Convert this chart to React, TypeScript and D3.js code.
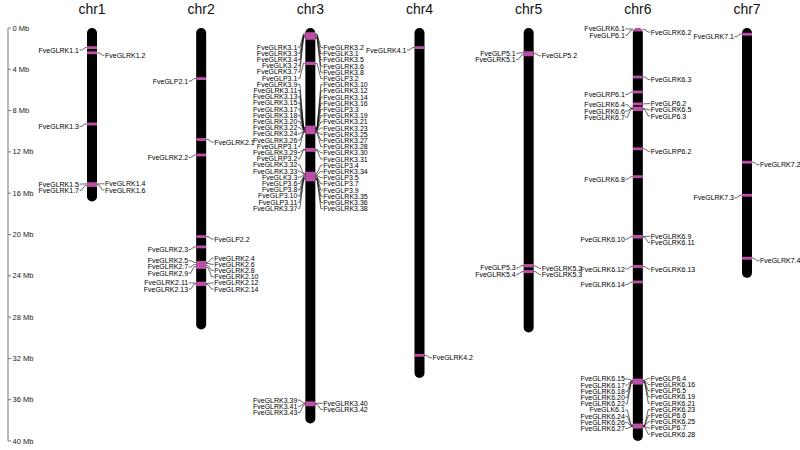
import React from 'react';
import * as d3 from 'd3';

const W = 800;
const H = 450;

const chromNames = ['chr1', 'chr2', 'chr3', 'chr4', 'chr5', 'chr6', 'chr7'];
const chromLengths = [16.8, 29.2, 38.3, 33.9, 29.5, 40.0, 24.2];
const axisTicks = [0, 4, 8, 12, 16, 20, 24, 28, 32, 36, 40];

type Gene = [string, number, 'L' | 'R'];

const chr1Genes: Gene[] = [
  ['FveGLRK1.1', 1.9, 'L'],
  ['FveGLRK1.2', 2.4, 'R'],
  ['FveGLRK1.3', 9.3, 'L'],
  ['FveGLRK1.4', 15.1, 'R'],
  ['FveGLRK1.5', 15.1, 'L'],
  ['FveGLRK1.6', 15.2, 'R'],
  ['FveGLRK1.7', 15.25, 'L'],
];

const chr2Genes: Gene[] = [
  ['FveGLP2.1', 4.9, 'L'],
  ['FveGLRK2.1', 10.8, 'R'],
  ['FveGLRK2.2', 12.3, 'L'],
  ['FveGLP2.2', 20.2, 'R'],
  ['FveGLRK2.3', 21.2, 'L'],
  ['FveGLRK2.4', 22.7, 'R'],
  ['FveGLRK2.5', 22.7, 'L'],
  ['FveGLRK2.6', 22.8, 'R'],
  ['FveGLRK2.7', 22.9, 'L'],
  ['FveGLRK2.8', 23.0, 'R'],
  ['FveGLRK2.9', 23.1, 'L'],
  ['FveGLRK2.10', 23.2, 'R'],
  ['FveGLRK2.11', 24.7, 'L'],
  ['FveGLRK2.12', 24.75, 'R'],
  ['FveGLRK2.13', 24.8, 'L'],
  ['FveGLRK2.14', 24.85, 'R'],
];

const chr3Genes: Gene[] = [
  ['FveGLRK3.1', 0.55, 'L'],
  ['FveGLRK3.2', 0.6, 'R'],
  ['FveGLK3.1', 0.65, 'R'],
  ['FveGLRK3.3', 0.7, 'L'],
  ['FveGLRK3.4', 0.75, 'L'],
  ['FveGLRK3.5', 0.8, 'R'],
  ['FveGLK3.2', 0.85, 'L'],
  ['FveGLRK3.6', 0.9, 'R'],
  ['FveGLRK3.7', 0.95, 'L'],
  ['FveGLRK3.8', 1.0, 'R'],
  ['FveGLP3.1', 3.4, 'L'],
  ['FveGLP3.2', 3.45, 'R'],
  ['FveGLRK3.9', 9.6, 'L'],
  ['FveGLRK3.10', 9.62, 'R'],
  ['FveGLRK3.11', 9.65, 'L'],
  ['FveGLRK3.12', 9.68, 'R'],
  ['FveGLRK3.13', 9.7, 'L'],
  ['FveGLRK3.14', 9.73, 'R'],
  ['FveGLRK3.15', 9.75, 'L'],
  ['FveGLRK3.16', 9.78, 'R'],
  ['FveGLP3.3', 9.8, 'R'],
  ['FveGLRK3.17', 9.82, 'L'],
  ['FveGLRK3.18', 9.85, 'L'],
  ['FveGLRK3.19', 9.88, 'R'],
  ['FveGLRK3.20', 9.9, 'L'],
  ['FveGLRK3.21', 9.93, 'R'],
  ['FveGLRK3.22', 9.95, 'L'],
  ['FveGLRK3.23', 9.98, 'R'],
  ['FveGLRK3.24', 10.0, 'L'],
  ['FveGLRK3.25', 10.03, 'R'],
  ['FveGLRK3.26', 10.05, 'L'],
  ['FveGLRK3.27', 10.08, 'R'],
  ['FveGLRP3.1', 10.1, 'L'],
  ['FveGLRK3.28', 10.15, 'R'],
  ['FveGLRK3.29', 11.75, 'L'],
  ['FveGLRK3.30', 11.78, 'R'],
  ['FveGLRP3.2', 11.8, 'L'],
  ['FveGLRK3.31', 11.85, 'R'],
  ['FveGLP3.4', 14.05, 'R'],
  ['FveGLRK3.32', 14.1, 'L'],
  ['FveGLRK3.33', 14.15, 'L'],
  ['FveGLRK3.34', 14.2, 'R'],
  ['FveGLK3.3', 14.25, 'L'],
  ['FveGLP3.5', 14.3, 'R'],
  ['FveGLP3.6', 14.35, 'L'],
  ['FveGLP3.7', 14.4, 'R'],
  ['FveGLP3.8', 14.45, 'L'],
  ['FveGLP3.9', 14.5, 'R'],
  ['FveGLP3.10', 14.55, 'L'],
  ['FveGLP3.11', 14.6, 'L'],
  ['FveGLRK3.35', 14.6, 'R'],
  ['FveGLRK3.36', 14.65, 'R'],
  ['FveGLRK3.37', 14.7, 'L'],
  ['FveGLRK3.38', 14.7, 'R'],
  ['FveGLRK3.39', 36.3, 'L'],
  ['FveGLRK3.40', 36.35, 'R'],
  ['FveGLRK3.41', 36.4, 'L'],
  ['FveGLRK3.42', 36.45, 'R'],
  ['FveGLRK3.43', 36.5, 'L'],
];

const chr4Genes: Gene[] = [
  ['FveGLRK4.1', 1.9, 'L'],
  ['FveGLRK4.2', 31.7, 'R'],
];

const chr5Genes: Gene[] = [
  ['FveGLP5.1', 2.4, 'L'],
  ['FveGLP5.2', 2.45, 'R'],
  ['FveGLRK5.1', 2.6, 'L'],
  ['FveGLP5.3', 23.0, 'L'],
  ['FveGLRK5.2', 23.05, 'R'],
  ['FveGLRK5.3', 23.6, 'R'],
  ['FveGLRK5.4', 23.6, 'L'],
];

const chr6Genes: Gene[] = [
  ['FveGLRK6.1', 0.1, 'L'],
  ['FveGLRK6.2', 0.15, 'R'],
  ['FveGLP6.1', 0.2, 'L'],
  ['FveGLRK6.3', 4.75, 'R'],
  ['FveGLRP6.1', 6.2, 'L'],
  ['FveGLP6.2', 7.35, 'R'],
  ['FveGLRK6.4', 7.75, 'L'],
  ['FveGLRK6.5', 7.8, 'R'],
  ['FveGLRK6.6', 7.8, 'L'],
  ['FveGLRK6.7', 7.85, 'L'],
  ['FveGLP6.3', 7.9, 'R'],
  ['FveGLRP6.2', 11.7, 'R'],
  ['FveGLRK6.8', 14.4, 'L'],
  ['FveGLRK6.9', 20.2, 'R'],
  ['FveGLRK6.10', 20.2, 'L'],
  ['FveGLRK6.11', 20.25, 'R'],
  ['FveGLRK6.12', 23.1, 'L'],
  ['FveGLRK6.13', 23.1, 'R'],
  ['FveGLRK6.14', 24.6, 'L'],
  ['FveGLRK6.15', 34.1, 'L'],
  ['FveGLP6.4', 34.12, 'R'],
  ['FveGLRK6.16', 34.15, 'R'],
  ['FveGLRK6.17', 34.2, 'L'],
  ['FveGLRK6.18', 34.22, 'L'],
  ['FveGLP6.5', 34.25, 'R'],
  ['FveGLRK6.19', 34.3, 'R'],
  ['FveGLRK6.20', 34.32, 'L'],
  ['FveGLRK6.21', 34.35, 'R'],
  ['FveGLRK6.22', 34.4, 'L'],
  ['FveGLK6.1', 38.45, 'L'],
  ['FveGLRK6.23', 38.48, 'R'],
  ['FveGLRK6.24', 38.5, 'L'],
  ['FveGLP6.6', 38.52, 'R'],
  ['FveGLRK6.25', 38.55, 'R'],
  ['FveGLRK6.26', 38.58, 'L'],
  ['FveGLP6.7', 38.6, 'R'],
  ['FveGLRK6.27', 38.62, 'L'],
  ['FveGLRK6.28', 38.65, 'R'],
];

const chr7Genes: Gene[] = [
  ['FveGLRK7.1', 0.6, 'L'],
  ['FveGLRK7.2', 13.0, 'R'],
  ['FveGLRK7.3', 16.2, 'L'],
  ['FveGLRK7.4', 22.3, 'R'],
];

const genesByChrom = [chr1Genes, chr2Genes, chr3Genes, chr4Genes, chr5Genes, chr6Genes, chr7Genes];

const FONT = "'Liberation Sans', Arial, Helvetica, sans-serif";
const BAND = '#bd4fa9';
const CHROM_W = 10;
const LABEL_GAP = 6.2;
const LABEL_OFFSET = 2.5;

const y = d3.scaleLinear().domain([0, 40]).range([28, 441]);
const x = d3.scalePoint<string>().domain(chromNames).range([92, 747]);

// Ordered label placement: labels keep gene order, are spaced at least `gap`
// apart, and each crowded group is centred on the mean of its targets.
// Larger crowded groups also absorb close neighbours (limited reach).
function layoutLabels(targets: number[], gap: number): number[] {
  type C = { n: number; sum: number };
  const clusters: C[] = targets.map((t) => ({ n: 1, sum: t }));
  let merged = true;
  while (merged) {
    merged = false;
    for (let i = 0; i < clusters.length - 1; i++) {
      const a = clusters[i];
      const b = clusters[i + 1];
      const aBottom = a.sum / a.n + ((a.n - 1) / 2) * gap;
      const bTop = b.sum / b.n - ((b.n - 1) / 2) * gap;
      const n = a.n + b.n;
      const reach = gap + Math.min(40, Math.max(0, n - 4) ** 2);
      if (bTop - aBottom < reach) {
        clusters.splice(i, 2, { n, sum: a.sum + b.sum });
        merged = true;
        break;
      }
    }
  }
  const out: number[] = [];
  clusters.forEach((c) => {
    const top = c.sum / c.n - ((c.n - 1) / 2) * gap;
    for (let k = 0; k < c.n; k++) out.push(top + k * gap);
  });
  return out;
}

function Chromosome({ idx }: { idx: number }) {
  const name = chromNames[idx];
  const len = chromLengths[idx];
  const genes = genesByChrom[idx];
  const cx = x(name) as number;
  const left = cx - CHROM_W / 2;
  const right = cx + CHROM_W / 2;
  const clipId = `clip-${name}`;

  const sides: ('L' | 'R')[] = ['L', 'R'];
  const labelEls: React.ReactNode[] = [];
  sides.forEach((side) => {
    const g = genes
      .map((d, i) => ({ d, i }))
      .filter((o) => o.d[2] === side)
      .sort((a, b) => a.d[1] - b.d[1] || a.i - b.i)
      .map((o) => o.d);
    const targets = g.map((d) => y(d[1]) + LABEL_OFFSET);
    const ly = layoutLabels(targets, LABEL_GAP);
    g.forEach((d, k) => {
      const by = y(d[1]);
      const lyk = ly[k];
      const isL = side === 'L';
      const edge = isL ? left : right;
      const s = isL ? -1 : 1;
      const path = `M${edge + s * 7.5},${lyk}H${edge + s * 5.5}L${edge + s * 1.8},${by}H${edge}`;
      labelEls.push(
        <g key={d[0]}>
          <path d={path} fill="none" stroke="#000" strokeWidth={0.6} />
          <text
            x={edge + s * 8}
            y={lyk}
            textAnchor={isL ? 'end' : 'start'}
            dominantBaseline="central"
            fontSize={7}
            fontFamily={FONT}
            fill="#000"
          >
            {d[0]}
          </text>
        </g>
      );
    });
  });

  return (
    <g>
      <defs>
        <clipPath id={clipId}>
          <rect x={left} y={y(0)} width={CHROM_W} height={y(len) - y(0)} rx={CHROM_W / 2} />
        </clipPath>
      </defs>
      <text x={cx} y={14} textAnchor="middle" fontSize={14} fontFamily={FONT} fill="#111">
        {name}
      </text>
      <rect x={left} y={y(0)} width={CHROM_W} height={y(len) - y(0)} rx={CHROM_W / 2} fill="#000" />
      <g clipPath={`url(#${clipId})`}>
        {genes.map((d) => (
          <rect key={d[0]} x={left} y={y(d[1]) - 1.4} width={CHROM_W} height={2.8} fill={BAND} />
        ))}
      </g>
      {labelEls}
    </g>
  );
}

export default function App() {
  const axisX = 8;
  return (
    <svg width={W} height={H} style={{ position: 'absolute', left: 0, top: 0, background: '#fff' }}>
      <rect width={W} height={H} fill="#fff" />
      <line x1={axisX} x2={axisX} y1={y(0)} y2={y(40)} stroke="#777" strokeWidth={1} />
      {axisTicks.map((t) => (
        <g key={t}>
          <line x1={axisX} x2={axisX + 3} y1={y(t)} y2={y(t)} stroke="#777" strokeWidth={1} />
          <text x={axisX + 4.5} y={y(t)} dominantBaseline="central" fontSize={7.5} fontFamily={FONT} fill="#222">
            {`${t} Mb`}
          </text>
        </g>
      ))}
      {chromNames.map((_, i) => (
        <Chromosome key={i} idx={i} />
      ))}
    </svg>
  );
}
